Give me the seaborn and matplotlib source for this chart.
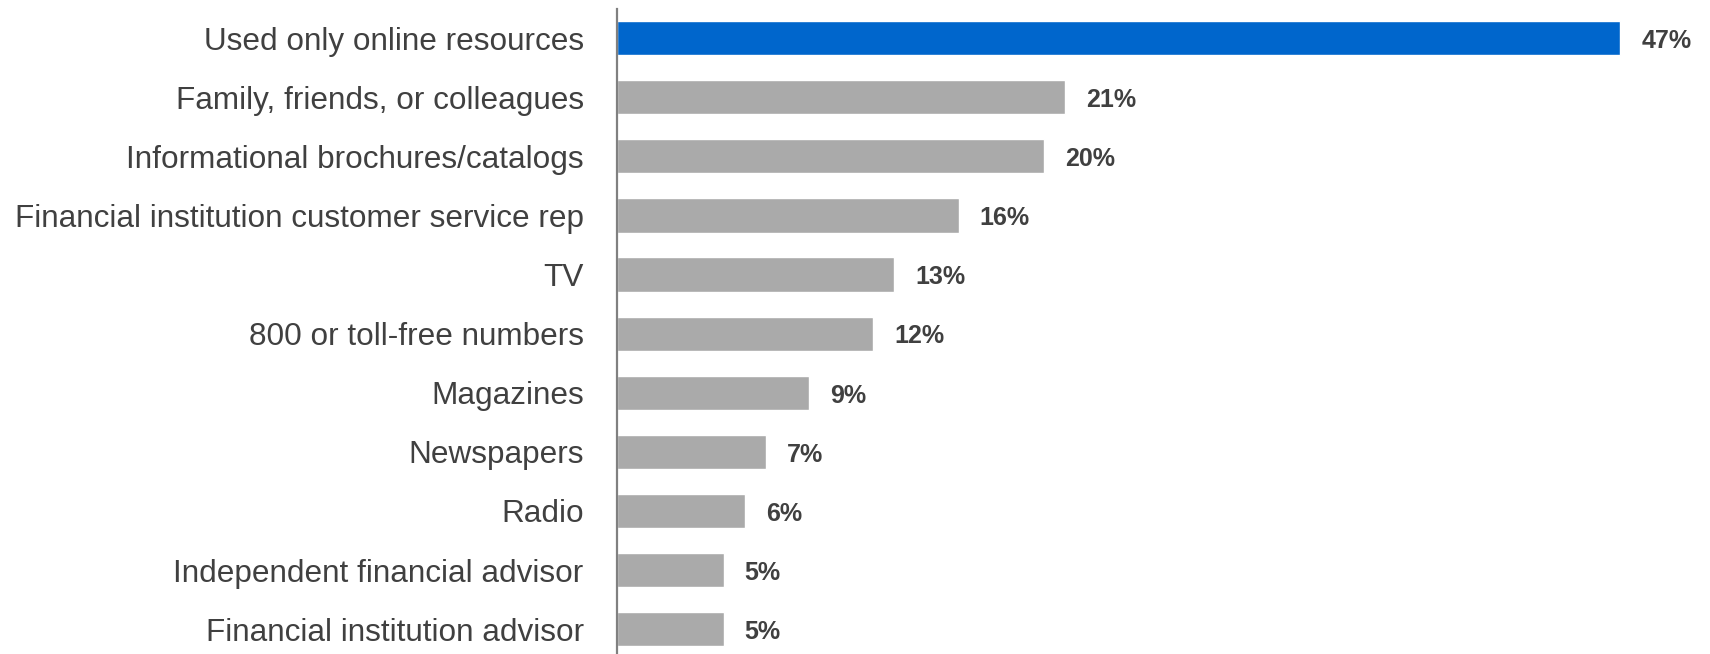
import matplotlib
matplotlib.use("Agg")
import matplotlib.pyplot as plt
import seaborn as sns
import pandas as pd

categories = [
    "Used only online resources",
    "Family, friends, or colleagues",
    "Informational brochures/catalogs",
    "Financial institution customer service rep",
    "TV",
    "800 or toll-free numbers",
    "Magazines",
    "Newspapers",
    "Radio",
    "Independent financial advisor",
    "Financial institution advisor",
]
values = [47, 21, 20, 16, 13, 12, 9, 7, 6, 5, 5]
value_labels = ["47%", "21%", "20%", "16%", "13%", "12%", "9%", "7%", "6%", "5%", "5%"]

highlight = "#0066CC"
neutral = "#AAAAAA"
text_color = "#404040"

df = pd.DataFrame({"source": categories, "share": values})
palette = [highlight] + [neutral] * (len(categories) - 1)

sns.set_theme(style="white")
plt.rcParams["font.family"] = ["Liberation Sans", "DejaVu Sans"]

fig = plt.figure(figsize=(17.1, 6.54), dpi=100)
ax = fig.add_axes([0.3608, 0.0, 0.6392, 0.986])

sns.barplot(data=df, y="source", x="share", hue="source", palette=palette,
            legend=False, width=0.58, saturation=1, ax=ax, orient="h")

ax.set_xlim(0, 51.2)
ax.set_ylim(10.42, -0.49)
ax.set_xlabel("")
ax.set_ylabel("")
ax.set_xticks([])

for side in ["top", "right", "bottom"]:
    ax.spines[side].set_visible(False)
ax.spines["left"].set_color("#808080")
ax.spines["left"].set_linewidth(1.6)

ax.tick_params(axis="y", length=0, pad=24, labelsize=22.7, labelcolor=text_color)

for i, (v, lab) in enumerate(zip(values, value_labels)):
    ax.annotate(lab, xy=(v, i), xytext=(15, -2), textcoords="offset points",
                va="center", ha="left", fontsize=18, fontweight="bold",
                color=text_color)

fig.savefig("out.png", dpi=100, facecolor="white")
